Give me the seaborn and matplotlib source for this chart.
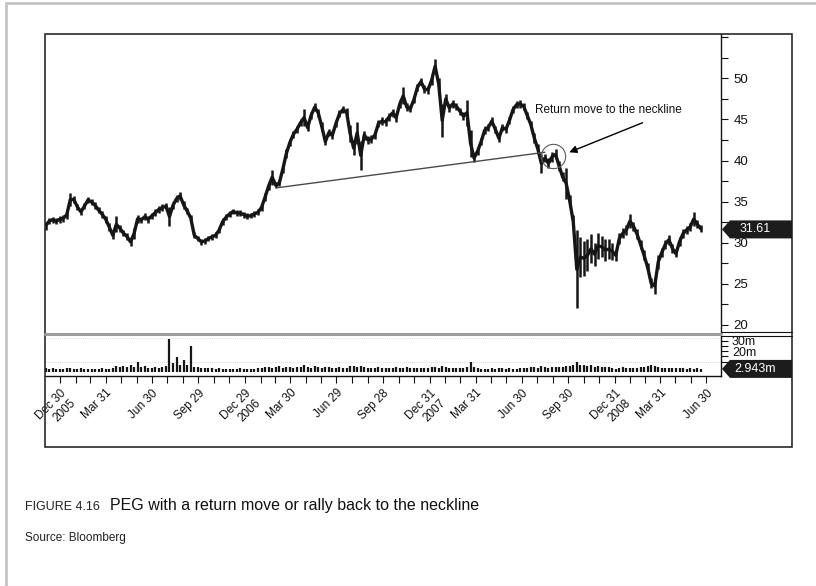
import matplotlib
matplotlib.use("Agg")
import matplotlib.pyplot as plt
import matplotlib.dates as mdates
from matplotlib import font_manager
from matplotlib.lines import Line2D
from matplotlib.patches import Polygon, Rectangle
from matplotlib.ticker import FuncFormatter
import numpy as np
import pandas as pd
import seaborn as sns

# weekly bars (Fridays)
first_week = "2005-12-02"

lows = [31.55, 32.25, 32.45, 32.25, 32.45, 32.55, 32.85, 34.45, 34.85, 33.95,
        33.35, 34.05, 34.85, 34.55, 34.15, 33.55, 33.05, 32.45, 31.45, 30.45,
        31.25, 31.35, 30.75, 30.35, 29.65, 30.45, 32.45, 32.35, 32.75, 32.45,
        32.85, 33.25, 33.65, 33.85, 34.05, 32.0, 34.15, 34.95, 35.25, 34.15,
        33.45, 32.65, 30.55, 30.15, 29.75, 29.85, 30.15, 30.35, 30.55, 31.15,
        32.15, 32.75, 33.15, 33.45, 33.25, 33.25, 33.05, 32.85, 32.95, 33.15,
        33.35, 33.85, 35.05, 36.45, 37.05, 36.65, 36.85, 38.45, 40.25, 41.75,
        42.75, 43.35, 44.15, 44.15, 43.55, 45.05, 46.05, 45.35, 43.65, 41.85,
        42.95, 42.65, 44.05, 45.25, 45.75, 45.45, 42.25, 40.65, 42.05, 38.9,
        42.55, 42.05, 42.15, 42.65, 44.05, 44.35, 44.25, 44.85, 45.35, 44.65,
        46.35, 46.85, 46.05, 45.85, 46.95, 48.45, 49.15, 48.25, 48.15, 49.15,
        50.65, 48.65, 42.9, 46.85, 45.95, 46.45, 46.15, 45.55, 44.95, 44.25,
        40.45, 39.85, 40.65, 41.85, 43.25, 43.55, 44.35, 43.35, 42.25, 43.55,
        43.35, 44.45, 45.75, 46.35, 46.45, 46.15, 45.05, 43.95, 42.15, 40.85,
        38.5, 39.85, 39.05, 39.85, 40.15, 38.75, 37.45, 35.35, 34.45, 31.75,
        22.0, 25.8, 26.0, 26.5, 27.5, 27.2, 28.0, 28.2, 27.8, 28.0,
        27.9, 27.75, 29.85, 30.55, 30.95, 31.75, 31.45, 30.45, 29.25, 27.85,
        26.45, 24.45, 23.8, 26.75, 28.25, 29.25, 29.75, 28.75, 28.25, 29.55,
        30.55, 31.05, 31.45, 32.05, 31.75, 31.25]

highs = [32.55, 32.95, 33.15, 32.95, 33.25, 33.35, 33.95, 36.05, 35.65, 34.75,
         34.15, 34.85, 35.55, 35.35, 34.95, 34.35, 33.85, 33.25, 32.35, 31.35,
         33.2, 32.15, 31.55, 31.15, 30.55, 31.75, 33.35, 33.15, 33.55, 33.25,
         33.65, 34.05, 34.45, 34.65, 34.85, 34.35, 34.95, 35.75, 36.15, 35.05,
         34.25, 33.35, 31.25, 30.85, 30.45, 30.55, 30.85, 31.05, 31.25, 31.85,
         32.95, 33.45, 33.85, 34.15, 33.95, 33.95, 33.75, 33.55, 33.65, 33.85,
         34.05, 34.75, 36.05, 37.35, 38.9, 37.35, 37.65, 39.45, 41.45, 42.65,
         43.65, 44.25, 45.05, 46.3, 44.45, 45.95, 46.95, 46.25, 44.65, 42.75,
         43.85, 43.55, 44.95, 46.15, 46.65, 46.35, 44.35, 42.35, 44.7, 42.35,
         43.65, 42.95, 43.05, 43.55, 44.95, 45.25, 45.15, 45.75, 46.25, 45.75,
         47.35, 48.9, 46.95, 46.75, 47.85, 49.35, 50.05, 49.15, 49.05, 50.35,
         52.3, 50.05, 46.85, 48.15, 46.85, 47.35, 47.05, 46.45, 45.85, 47.4,
         43.75, 40.75, 41.65, 42.75, 44.15, 44.45, 45.25, 44.25, 43.15, 44.45,
         44.25, 45.35, 46.65, 47.25, 47.35, 47.05, 45.95, 44.85, 43.35, 41.95,
         40.75, 40.75, 40.25, 41.05, 41.35, 39.95, 38.55, 39.1, 35.75, 33.35,
         31.5, 30.7, 30.2, 30.4, 31.0, 30.0, 31.2, 30.8, 30.4, 30.4,
         30.0, 29.15, 31.15, 31.75, 32.15, 33.5, 32.55, 31.65, 30.35, 29.05,
         27.55, 25.65, 25.65, 28.55, 29.35, 30.35, 30.95, 29.85, 29.05, 30.65,
         31.65, 32.05, 32.35, 33.7, 32.75, 32.15]

# volume in millions of shares
volume = [3.5, 3.0, 3.8, 2.5, 3.2, 2.8, 3.6, 4.0, 3.0, 2.6,
          3.4, 2.8, 3.0, 2.5, 3.2, 2.9, 3.8, 2.6, 3.0, 3.5,
          5.5, 4.8, 6.0, 5.2, 6.5, 5.0, 10.0, 4.5, 5.5, 4.2,
          4.0, 5.0, 3.8, 4.5, 5.5, 31.0, 9.0, 14.0, 7.0, 11.0,
          7.0, 25.0, 5.0, 4.5, 4.0, 3.8, 4.2, 3.5, 3.0, 3.6,
          2.8, 3.2, 2.5, 3.0, 2.6, 3.4, 2.8, 3.0, 3.2, 2.7,
          3.5, 3.8, 4.5, 5.0, 4.2, 4.8, 5.5, 4.0, 5.2, 4.4,
          4.0, 4.6, 5.0, 6.2, 4.8, 4.2, 5.5, 4.6, 4.0, 5.0,
          4.4, 3.8, 4.2, 4.6, 3.8, 4.0, 5.8, 6.0, 5.0, 5.5,
          4.8, 4.2, 4.0, 3.5, 4.4, 3.8, 4.0, 3.6, 4.2, 4.8,
          4.0, 3.6, 4.4, 3.8, 4.0, 3.5, 4.2, 3.8, 3.6, 4.4,
          5.0, 4.2, 5.5, 4.6, 3.8, 4.0, 3.4, 3.8, 4.2, 4.6,
          10.0, 4.8, 4.0, 3.2, 2.6, 3.0, 3.6, 2.8, 3.4, 4.0,
          3.2, 3.8, 3.0, 2.6, 3.4, 4.0, 3.6, 4.4, 5.0, 4.2,
          5.5, 4.6, 4.0, 4.8, 5.2, 4.4, 5.0, 6.0, 5.4, 6.5,
          10.0, 7.0, 6.2, 5.5, 6.6, 5.0, 5.8, 4.6, 5.2, 4.4,
          3.8, 3.2, 4.0, 4.4, 3.8, 4.2, 3.6, 4.0, 4.6, 5.0,
          5.6, 6.2, 5.4, 4.6, 4.0, 3.6, 4.2, 3.4, 3.8, 4.0,
          3.5, 3.2, 3.8, 3.0, 3.4, 2.943]

last_price = 31.61
last_volume = 2.943

quarter_labels = ["Dec 30\n2005", "Mar 31", "Jun 30", "Sep 29",
                  "Dec 29\n2006", "Mar 30", "Jun 29", "Sep 28",
                  "Dec 31\n2007", "Mar 31", "Jun 30", "Sep 30",
                  "Dec 31\n2008", "Mar 31", "Jun 30"]

# neckline and the annotation around the return move
neck_dates = ["2007-03-07", "2008-08-15"]
neck_prices = [36.7, 41.0]
circle_date, circle_price = "2008-08-31", 40.55
arrow_tail = ("2009-02-24", 44.6)
arrow_head = ("2008-10-02", 41.0)
note_date, note_price = "2008-07-26", 46.1
note_text = "Return move to the neckline"

W, H = 816, 586

sns.set_theme(style="white")


def has_font(name):
    try:
        font_manager.findfont(font_manager.FontProperties(family=name),
                              fallback_to_default=False)
        return True
    except Exception:
        return False


plt.rcParams["font.family"] = ["Liberation Sans", "DejaVu Sans"]
if has_font("Liberation Sans Narrow"):
    cap_font = ["Liberation Sans Narrow", "DejaVu Sans"]
    cap_sizes = (11.5, 14, 10.5)
else:
    cap_font = ["Liberation Sans", "DejaVu Sans"]
    cap_sizes = (9, 11.5, 8.5)

dates = pd.date_range(first_week, periods=len(highs), freq="W-FRI")
mids = (np.array(lows) + np.array(highs)) / 2
month_ends = pd.date_range("2005-12-31", "2009-06-30", freq="ME")
quarter_ends = month_ends[::3]

fig = plt.figure(figsize=(W / 100, H / 100), dpi=100)
fig.patch.set_facecolor("white")

ax = fig.add_axes([45 / W, 1 - 333 / H, 676 / W, 299 / H])
axv = fig.add_axes([45 / W, 1 - 376 / H, 676 / W, 40 / H], sharex=ax)

# price bars
ax.vlines(dates, lows, highs, color="#161616", lw=1.8)
sns.lineplot(x=dates, y=mids, ax=ax, color="#161616", lw=2.4)
sns.lineplot(x=pd.to_datetime(neck_dates), y=neck_prices, ax=ax,
             color="#4a4a4a", lw=1.0)
ax.plot([pd.Timestamp(circle_date)], [circle_price], marker="o", ms=17.5,
        mfc="none", mec="#5a5a5a", mew=0.8)
ax.annotate("", xy=(mdates.date2num(pd.Timestamp(arrow_head[0])), arrow_head[1]),
            xytext=(mdates.date2num(pd.Timestamp(arrow_tail[0])), arrow_tail[1]),
            arrowprops=dict(arrowstyle="-|>", color="black", lw=1.0,
                            mutation_scale=11, shrinkA=0, shrinkB=0))
ax.text(pd.Timestamp(note_date), note_price, note_text, fontsize=8.5,
        ha="left", va="center", color="#111111")

ax.set_xlim(pd.Timestamp("2005-12-01"), pd.Timestamp("2009-07-29"))
ax.set_ylim(19.0, 55.4)
ax.yaxis.tick_right()
ax.set_yticks(np.arange(20, 55.1, 2.5))
ax.yaxis.set_major_formatter(FuncFormatter(
    lambda v, p: f"{v:.0f}" if abs(v % 5) < 1e-6 and v < 52 else ""))
ax.tick_params(axis="y", direction="out", length=4.8, width=0.8, pad=4,
               labelsize=9.5, colors="#111111", right=True, left=False)
ax.tick_params(axis="x", bottom=False, labelbottom=False)
for side in ["left", "top", "bottom"]:
    ax.spines[side].set_visible(False)
ax.spines["right"].set_color("#111111")
ax.spines["right"].set_linewidth(1.0)
ax.set_xlabel("")
ax.set_ylabel("")

# volume
axv.vlines(dates, 0, volume, color="#161616", lw=1.6)
axv.axhline(10, color="#c8c8c8", lw=0.6, ls=(0, (1, 1.5)), zorder=0)
axv.axhline(32.5, color="#d0d0d0", lw=0.6, ls=(0, (1, 1.5)), zorder=0)
axv.set_ylim(-3.81, 34.29)
axv.yaxis.tick_right()
axv.set_yticks([10, 15, 20, 25, 30])
axv.set_yticklabels(["", "", "20m", "", "30m"])
axv.tick_params(axis="y", direction="out", length=4.8, width=0.8, pad=3,
                labelsize=9, colors="#111111", right=True, left=False)
axv.set_xticks(quarter_ends)
axv.set_xticklabels(quarter_labels)
axv.set_xticks(month_ends, minor=True)
axv.tick_params(axis="x", which="both", direction="out", length=5, width=0.8,
                pad=3, labelsize=8.5, colors="#111111", bottom=True)
for lbl in axv.get_xticklabels():
    lbl.set_rotation(45)
    lbl.set_ha("right")
    lbl.set_va("top")
    lbl.set_rotation_mode("anchor")
    lbl.set_multialignment("right")
for side in ["left", "top"]:
    axv.spines[side].set_visible(False)
for side in ["right", "bottom"]:
    axv.spines[side].set_color("#111111")
    axv.spines[side].set_linewidth(1.0)

# frame, separator and outer border
fig.add_artist(Rectangle((45 / W, 1 - 447 / H), 747 / W, 413 / H,
                         transform=fig.transFigure, fill=False,
                         ec="#2a2a2a", lw=1.2))
fig.add_artist(Line2D([45 / W, 721 / W], [1 - 334 / H] * 2,
                      transform=fig.transFigure, color="#9c9c9c", lw=2.2))
for yy in (332.3, 335.5):
    fig.add_artist(Line2D([721 / W, 792 / W], [1 - yy / H] * 2,
                          transform=fig.transFigure, color="#111111", lw=0.8))
fig.add_artist(Line2D([5.5 / W, 5.5 / W], [0, 1 - 2.5 / H],
                      transform=fig.transFigure, color="#c4c4c4", lw=2))
fig.add_artist(Line2D([5.5 / W, 1], [1 - 2.5 / H] * 2,
                      transform=fig.transFigure, color="#c4c4c4", lw=2))


def tag(axis, value, text):
    yc = fig.transFigure.inverted().transform(
        axis.transData.transform((0, value)))[1]
    h = 9 / H
    xs = [722 / W, 730 / W, 792 / W, 792 / W, 730 / W]
    ys = [yc, yc + h, yc + h, yc - h, yc - h]
    fig.add_artist(Polygon(np.column_stack([xs, ys]), closed=True,
                           transform=fig.transFigure, fc="#1c1c1c",
                           ec="none", zorder=5))
    fig.text(755 / W, yc, text, color="white", fontsize=9,
             ha="center", va="center", zorder=6)


tag(ax, last_price, f"{last_price:.2f}")
tag(axv, last_volume, f"{last_volume:.3f}m")

# caption
fig.text(25 / W, 1 - 510 / H, "FIGURE 4.16", fontsize=cap_sizes[0],
         family=cap_font, color="#222222", va="baseline")
fig.text(110 / W, 1 - 510 / H,
         "PEG with a return move or rally back to the neckline",
         fontsize=cap_sizes[1], family=cap_font, color="#111111",
         va="baseline")
fig.text(25 / W, 1 - 541 / H, "Source: Bloomberg", fontsize=cap_sizes[2],
         family=cap_font, color="#222222", va="baseline")

fig.savefig("out.png", dpi=100)
